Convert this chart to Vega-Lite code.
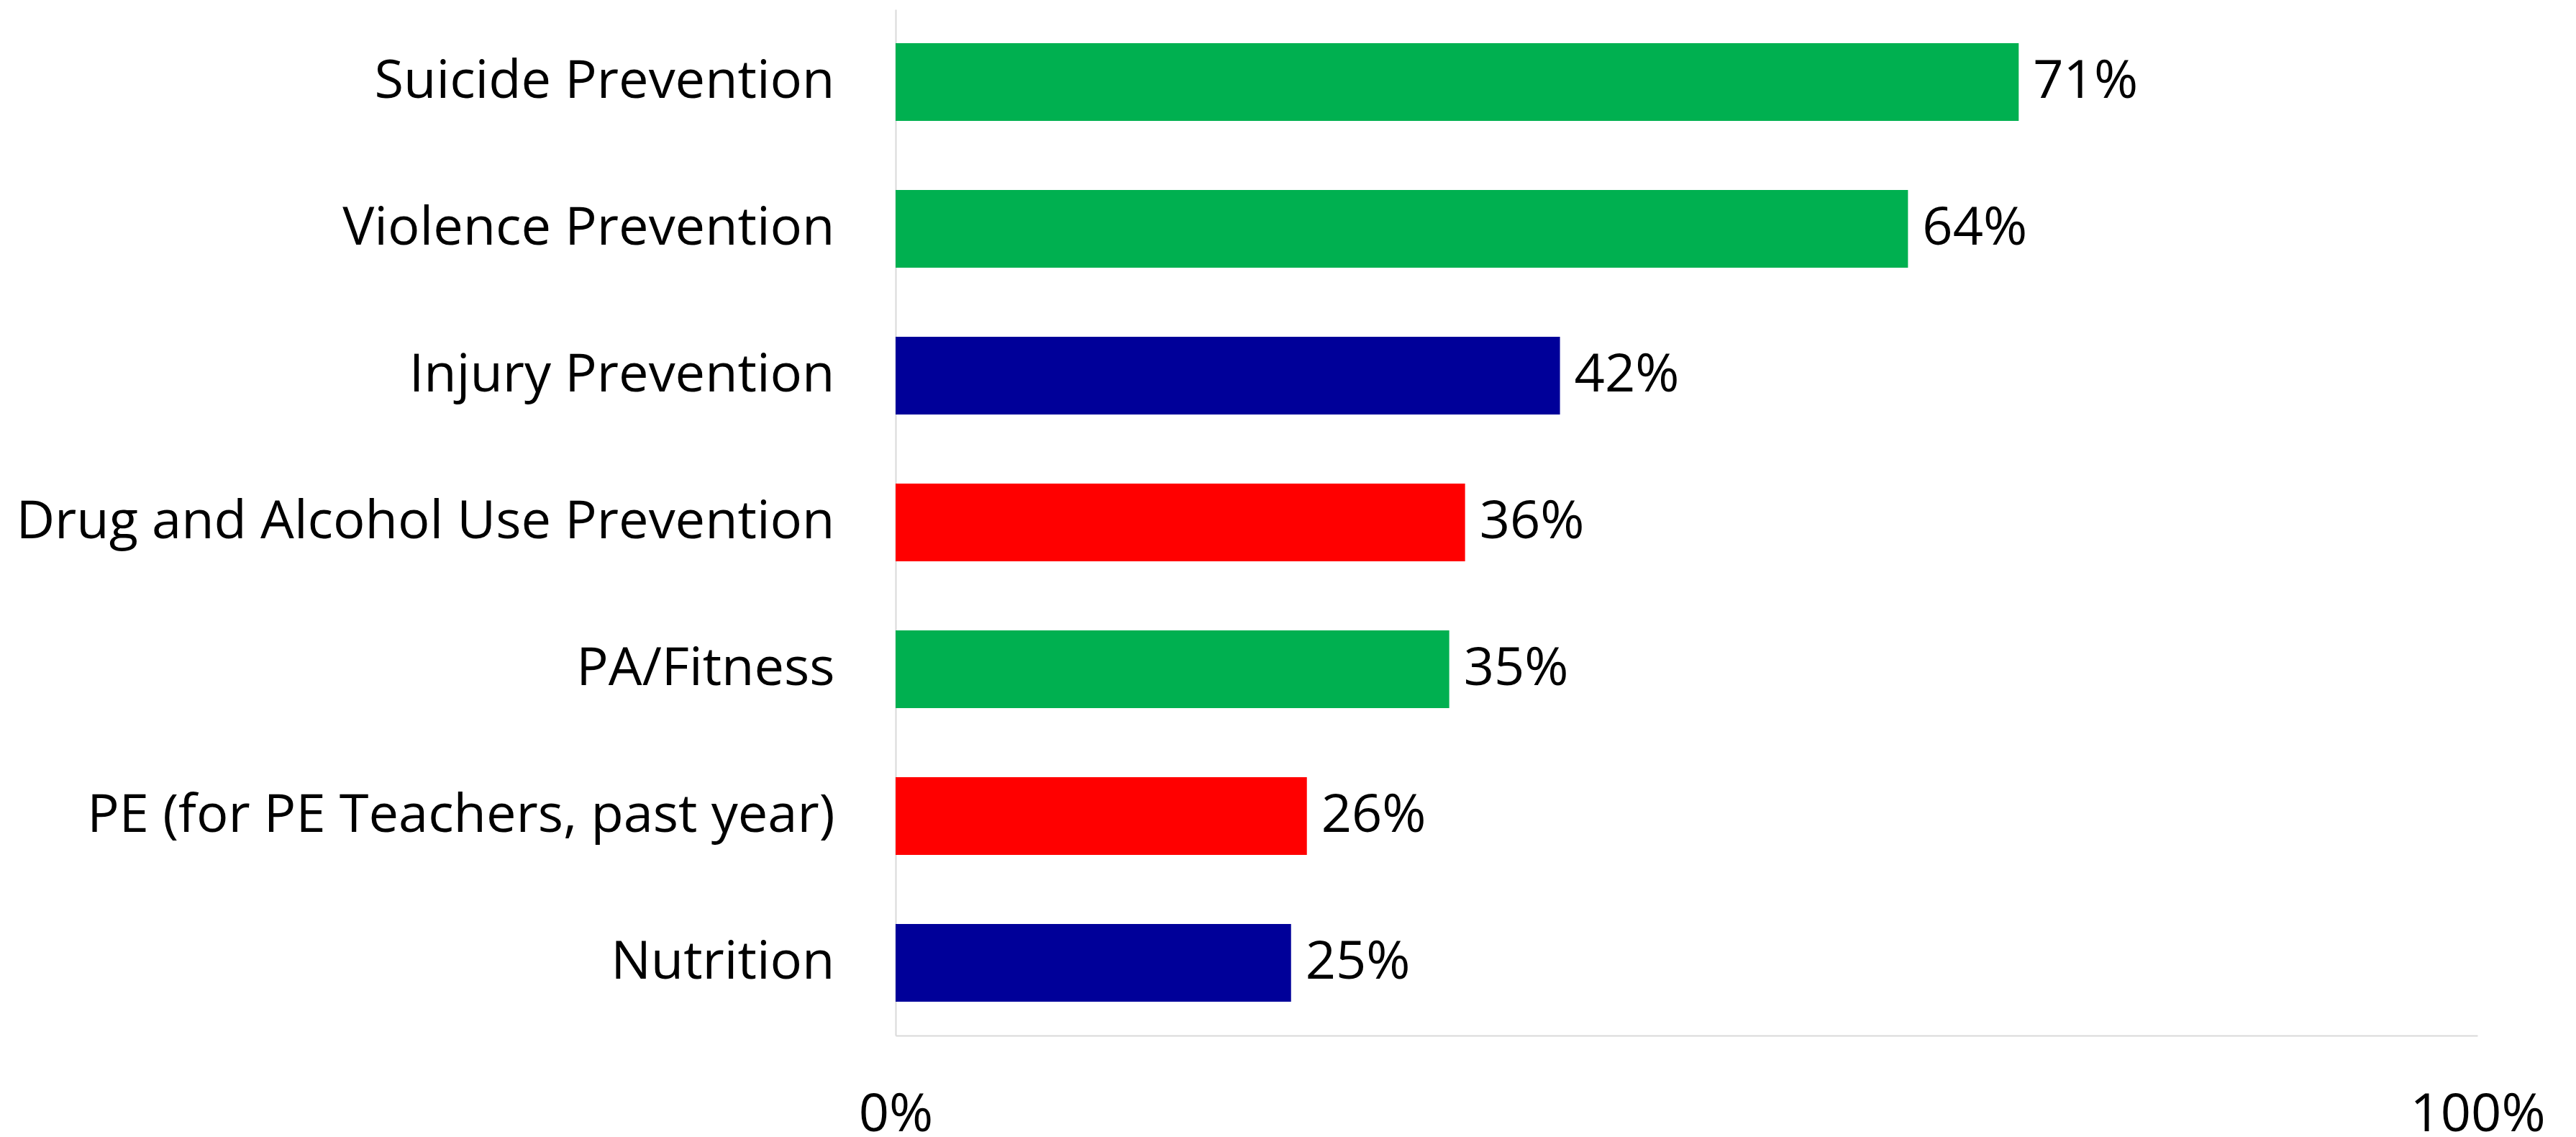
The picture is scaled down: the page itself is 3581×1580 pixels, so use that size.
{
  "$schema": "https://vega.github.io/schema/vega-lite/v6.json",
  "width": 2199,
  "height": 1426,
  "autosize": {"type": "none"},
  "padding": {"left": 1245, "top": 13, "right": 137, "bottom": 141},
  "background": "white",
  "config": {"view": {"stroke": null}, "font": "Open Sans"},
  "data": {
    "values": [
      {"topic": "Suicide Prevention", "value": 0.71, "group": "g1"},
      {"topic": "Violence Prevention", "value": 0.64, "group": "g1"},
      {"topic": "Injury Prevention", "value": 0.42, "group": "g2"},
      {"topic": "Drug and Alcohol Use Prevention", "value": 0.36, "group": "g3"},
      {"topic": "PA/Fitness", "value": 0.35, "group": "g1"},
      {"topic": "PE (for PE Teachers, past year)", "value": 0.26, "group": "g3"},
      {"topic": "Nutrition\u00a0", "value": 0.25, "group": "g2"}
    ]
  },
  "encoding": {
    "y": {
      "field": "topic", "type": "nominal", "sort": null,
      "scale": {"paddingInner": 0.47, "paddingOuter": 0.23},
      "axis": {"title": null, "labelFontSize": 74, "labelColor": "black", "labelPadding": 85, "ticks": false, "domainColor": "#D9D9D9", "domainWidth": 2, "labelLimit": 0}
    },
    "x": {
      "field": "value", "type": "quantitative",
      "scale": {"domain": [0, 1]},
      "axis": {"values": [0, 1], "format": ".0%", "title": null, "grid": false, "ticks": false, "domainColor": "#D9D9D9", "domainWidth": 2, "labelFontSize": 74, "labelPadding": 74, "labelColor": "black", "labelFlush": false, "labelLimit": 0, "labelOverlap": false}
    }
  },
  "layer": [
    {
      "mark": {"type": "bar"},
      "encoding": {
        "color": {"field": "group", "type": "nominal", "scale": {"domain": ["g1", "g2", "g3"], "range": ["#00B050", "#000099", "#FF0000"]}, "legend": null}
      }
    },
    {
      "mark": {"type": "text", "align": "left", "baseline": "middle", "dx": 20, "fontSize": 74, "color": "black"},
      "encoding": {"text": {"field": "value", "type": "quantitative", "format": ".0%"}}
    }
  ]
}
